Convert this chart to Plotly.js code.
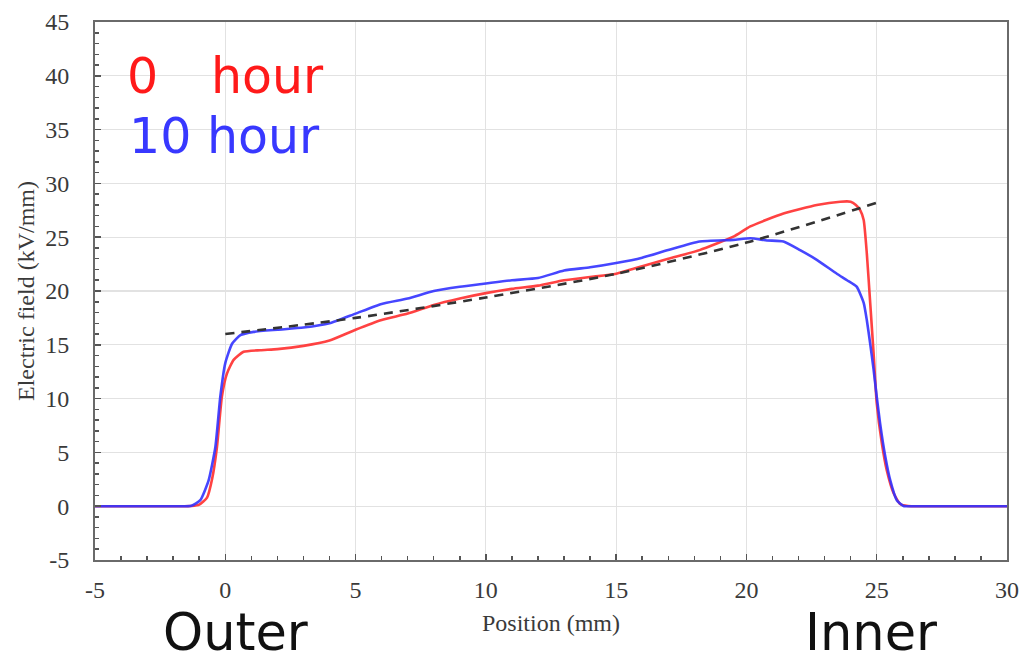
<!DOCTYPE html>
<html>
<head>
<meta charset="utf-8">
<script src="https://cdn.plot.ly/plotly-3.0.1.min.js"></script>
<style>html,body{margin:0;padding:0;background:#fff;}#chart{width:1021px;height:666px;}</style>
</head>
<body>
<div id="chart"></div>
<script>
// 0 hour (red)
const redX = [-5, -1.8, -1.3, -1.0, -0.7, -0.5, -0.32, -0.13, 0.06, 0.32, 0.7, 1.34, 2, 3, 4, 5, 6, 7, 8, 9, 10, 11, 12, 13, 14, 15, 16, 17, 18.2, 19.5, 20.15, 21.42, 22.7, 23.6, 24.0, 24.2, 24.37, 24.5, 24.62, 24.75, 24.88, 25.0, 25.2, 25.39, 25.65, 25.9, 26.2, 26.7, 30];
const redY = [0, 0, 0.02, 0.15, 0.8, 2.6, 5.5, 10.2, 12.3, 13.6, 14.35, 14.5, 14.6, 14.9, 15.4, 16.4, 17.3, 17.9, 18.7, 19.3, 19.8, 20.2, 20.5, 21.0, 21.3, 21.6, 22.3, 23.0, 23.8, 25.05, 26.0, 27.2, 28.0, 28.3, 28.3, 28.0, 27.5, 26.6, 23.5, 18.9, 14.2, 9.6, 5.8, 3.3, 1.2, 0.2, 0.02, 0, 0];
// 10 hour (blue)
const blueX = [-5, -1.8, -1.3, -0.96, -0.64, -0.38, -0.19, 0, 0.26, 0.58, 1.09, 2, 3, 4, 5, 6, 7, 8, 9, 10, 11, 12, 13, 14, 15, 16, 17, 18.2, 19.5, 20.15, 20.79, 21.42, 22.06, 22.7, 23.47, 23.86, 24.23, 24.5, 24.62, 24.75, 24.88, 25.0, 25.13, 25.33, 25.52, 25.77, 26.03, 26.5, 30];
const blueY = [0, 0, 0.05, 0.56, 2.4, 5.5, 10.2, 13.3, 15.1, 15.9, 16.2, 16.4, 16.6, 17.0, 17.9, 18.8, 19.3, 20.0, 20.4, 20.7, 21.0, 21.2, 21.9, 22.2, 22.6, 23.1, 23.8, 24.6, 24.75, 24.9, 24.7, 24.6, 23.8, 22.9, 21.6, 21.0, 20.4, 18.9, 17.3, 15.1, 12.7, 10.2, 7.7, 4.6, 2.4, 0.56, 0.02, 0, 0];
// reference profile (dashed)
const fitX = [0, 5, 10, 15, 20, 25];
const fitY = [16.0, 17.5, 19.4, 21.6, 24.5, 28.2];

const xTickVals = [-5, 0, 5, 10, 15, 20, 25, 30];
const yTickVals = [-5, 0, 5, 10, 15, 20, 25, 30, 35, 40, 45];

const traces = [
  {x: redX, y: redY, type: 'scatter', mode: 'lines', name: '0 hour', line: {color: 'rgba(255,45,45,0.9)', width: 2.6, shape: 'spline', smoothing: 0.5}},
  {x: blueX, y: blueY, type: 'scatter', mode: 'lines', name: '10 hour', line: {color: 'rgba(50,50,255,0.9)', width: 2.6, shape: 'spline', smoothing: 0.5}},
  {x: fitX, y: fitY, type: 'scatter', mode: 'lines', name: 'fit', line: {color: '#333', width: 2.6, dash: '9px,7px', shape: 'spline', smoothing: 0.8}}
];

const serif = 'Liberation Serif, Times New Roman, serif';
const layout = {
  width: 1021, height: 666,
  margin: {l: 95, r: 14, t: 22, b: 106},
  paper_bgcolor: '#fff', plot_bgcolor: '#fff',
  showlegend: false,
  xaxis: {
    range: [-5, 30], tickvals: xTickVals, ticktext: xTickVals.map(String),
    showgrid: true, gridcolor: '#e2e2e2', gridwidth: 1.2, zeroline: false,
    showline: true, linecolor: '#6a6a6a', linewidth: 2, mirror: true,
    ticks: 'inside', ticklen: 6, tickwidth: 1.5, tickcolor: '#555',
    minor: {dtick: 1, ticks: 'inside', ticklen: 4, tickwidth: 1.5, tickcolor: '#555', showgrid: false},
    tickfont: {family: serif, size: 24, color: '#3a3a3a'},
    ticklabelstandoff: 7,
    title: {text: 'Position (mm)', font: {family: serif, size: 24, color: '#3a3a3a'}, standoff: 12}
  },
  yaxis: {
    range: [-5, 45], tickvals: yTickVals, ticktext: yTickVals.map(String),
    showgrid: true, gridcolor: '#e2e2e2', gridwidth: 1.2, zeroline: false,
    showline: true, linecolor: '#6a6a6a', linewidth: 2, mirror: true,
    ticks: 'inside', ticklen: 6, tickwidth: 1.5, tickcolor: '#555',
    minor: {dtick: 1, ticks: 'inside', ticklen: 4, tickwidth: 1.5, tickcolor: '#555', showgrid: false},
    tickfont: {family: serif, size: 24, color: '#3a3a3a'},
    ticklabelstandoff: 19,
    title: {text: 'Electric field (kV/mm)', font: {family: serif, size: 24, color: '#3a3a3a'}, standoff: 4}
  },
  annotations: [
    {xref: 'paper', yref: 'paper', x: 0.033, y: 0.8996, xanchor: 'left', yanchor: 'middle', text: '0', showarrow: false, font: {family: 'DejaVu Sans', size: 49, color: '#ff1a1a'}},
    {xref: 'paper', yref: 'paper', x: 0.1245, y: 0.8996, xanchor: 'left', yanchor: 'middle', text: 'hour', showarrow: false, font: {family: 'DejaVu Sans', size: 49, color: '#ff1a1a'}},
    {xref: 'paper', yref: 'paper', x: 0.035, y: 0.787, xanchor: 'left', yanchor: 'middle', text: '10 hour', showarrow: false, font: {family: 'DejaVu Sans', size: 49, color: '#3838ff'}},
    {xref: 'paper', yref: 'paper', x: 0.1546, y: -0.1340, xanchor: 'center', yanchor: 'middle', text: 'Outer', showarrow: false, font: {family: 'DejaVu Sans', size: 51, color: '#111'}},
    {xref: 'paper', yref: 'paper', x: 0.851, y: -0.1340, xanchor: 'center', yanchor: 'middle', text: 'Inner', showarrow: false, font: {family: 'DejaVu Sans', size: 51, color: '#111'}}
  ]
};

Plotly.newPlot('chart', traces, layout, {displayModeBar: false, staticPlot: true});
</script>
</body>
</html>
